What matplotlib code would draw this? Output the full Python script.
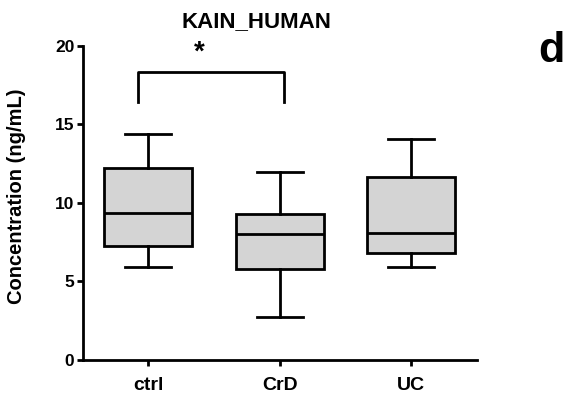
import matplotlib
matplotlib.use("Agg")
import matplotlib.pyplot as plt

plt.rcParams["font.family"] = ["Liberation Sans", "DejaVu Sans"]
plt.rcParams["font.weight"] = "bold"

# данные
groups = ["ctrl", "CrD", "UC"]
whis_lo = [5.95, 2.75, 5.9]
q1 = [7.25, 5.8, 6.8]
median = [9.35, 8.0, 8.1]
q3 = [12.2, 9.3, 11.65]
whis_hi = [14.4, 12.0, 14.05]

yticks = [0, 5, 10, 15, 20]

stats = []
for i, g in enumerate(groups):
    stats.append({
        "label": g,
        "whislo": whis_lo[i],
        "q1": q1[i],
        "med": median[i],
        "q3": q3[i],
        "whishi": whis_hi[i],
        "fliers": [],
    })

fig = plt.figure(figsize=(5.69, 4.03), dpi=100)
ax = fig.add_axes([0.1453, 0.1067, 0.8378 - 0.1453, 0.886 - 0.1067])

lw = 2.0
ax.bxp(
    stats,
    positions=[1, 2, 3],
    widths=0.67,
    patch_artist=True,
    showfliers=False,
    boxprops=dict(facecolor="#d4d4d4", edgecolor="black", linewidth=lw),
    medianprops=dict(color="black", linewidth=lw),
    whiskerprops=dict(color="black", linewidth=lw),
    capprops=dict(color="black", linewidth=lw),
    capwidths=0.35,
)

ax.set_xlim(0.5, 3.5)
ax.set_ylim(0, 20)
ax.set_yticks(yticks)
ax.set_yticklabels([str(t) for t in yticks], fontsize=12.5, fontweight="bold")
ax.set_xticks([1, 2, 3])
ax.set_xticklabels(groups, fontsize=14, fontweight="bold")
ax.tick_params(axis="y", length=4, width=lw, pad=2)
ax.tick_params(axis="x", length=4.5, width=lw, pad=8)

for s in ["top", "right"]:
    ax.spines[s].set_visible(False)
for s in ["left", "bottom"]:
    ax.spines[s].set_linewidth(lw)

ax.set_ylabel("Concentration (ng/mL)", fontsize=14.5, fontweight="bold")
ax.yaxis.set_label_coords(-0.144, 0.522)

# скобка значимости
ax.plot([0.924, 0.924, 2.03, 2.03], [16.45, 18.33, 18.33, 16.45], color="black",
        linewidth=lw, clip_on=False)
ax.text(1.39, 19.55, "*", ha="center", va="center", fontsize=20, fontweight="bold")

fig.text(256 / 569, 1 - 22 / 403, "KAIN_HUMAN", ha="center", va="center",
         fontsize=16, fontweight="bold")
fig.text(551 / 569, 1 - 51 / 403, "d", ha="center", va="center",
         fontsize=31, fontweight="bold")

fig.savefig("out.png", dpi=100)
